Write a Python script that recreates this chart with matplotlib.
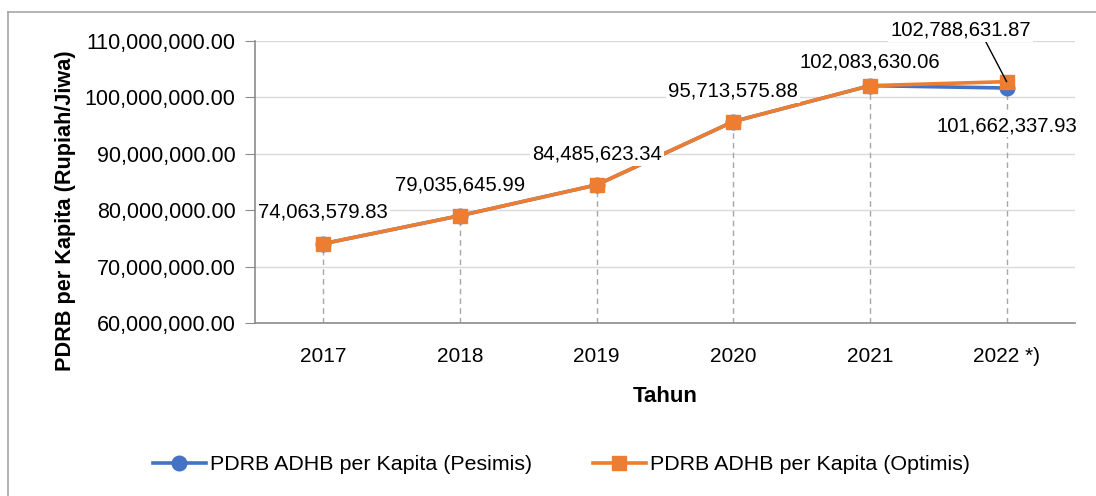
import matplotlib
matplotlib.use("Agg")
import matplotlib.pyplot as plt
from matplotlib.lines import Line2D
from matplotlib.ticker import FuncFormatter

plt.rcParams['font.family'] = ['Liberation Sans', 'DejaVu Sans']

years = ["2017", "2018", "2019", "2020", "2021", "2022 *)"]
pesimis = [74063579.83, 79035645.99, 84485623.34, 95713575.88, 102083630.06, 101662337.93]
optimis = [74063579.83, 79035645.99, 84485623.34, 95713575.88, 102083630.06, 102788631.87]
yticks = [60000000, 70000000, 80000000, 90000000, 100000000, 110000000]

BLUE = "#4472C4"
ORANGE = "#ED7D31"

fig = plt.figure(figsize=(10.96, 4.96), dpi=100)
ax = fig.add_axes([255/1096, 1-323/496, 820/1096, (323-41)/496])

x = list(range(len(years)))
ax.plot(x, pesimis, color=BLUE, lw=2.6, marker='o', ms=10.5, zorder=4,
        label="PDRB ADHB per Kapita (Pesimis)")
ax.plot(x, optimis, color=ORANGE, lw=2.6, marker='s', ms=10.5, zorder=5,
        label="PDRB ADHB per Kapita (Optimis)")

# drop lines
for i, v in enumerate(optimis):
    ax.plot([i, i], [yticks[0], min(v, pesimis[i])], color="#A6A6A6", lw=1,
            ls=(0, (4, 3)), zorder=2)

ax.set_xlim(-0.5, len(years) - 0.5)
ax.set_ylim(yticks[0], yticks[-1])
ax.set_yticks(yticks)
ax.yaxis.set_major_formatter(FuncFormatter(lambda v, p: f"{v:,.2f}"))
ax.set_xticks(x)
ax.set_xticklabels(years)
ax.grid(axis='y', color="#D9D9D9", lw=1, zorder=0)
ax.set_axisbelow(True)
for s in ['top', 'right']:
    ax.spines[s].set_visible(False)
for s in ['left', 'bottom']:
    ax.spines[s].set_color("#8C8C8C")
    ax.spines[s].set_linewidth(1.2)
ax.tick_params(axis='y', length=7, color="#8C8C8C", labelsize=15.5, pad=7)
ax.tick_params(axis='x', length=0, labelsize=15, pad=17)

ax.set_ylabel("PDRB per Kapita (Rupiah/Jiwa)", fontsize=15.6, fontweight='bold')
ax.yaxis.set_label_coords((76-255)/820, (323-211)/282)
ax.set_xlabel("Tahun", fontsize=16, fontweight='bold', labelpad=15)

bbox = dict(boxstyle='square,pad=0.1', fc='white', ec='none')
fs = 14.6
# data labels (offsets in points)
offs = [(0, 23), (0, 22), (0, 22), (0, 22), (0, 17)]
for i in range(5):
    ax.annotate(f"{pesimis[i]:,.2f}", (i, pesimis[i]), xytext=offs[i], textcoords='offset points',
                ha='center', va='center', fontsize=fs, bbox=bbox, zorder=6)
ax.annotate(f"{optimis[5]:,.2f}", (5, optimis[5]), xytext=(-33, 37), textcoords='offset points',
            ha='center', va='center', fontsize=fs, bbox=bbox, zorder=6,
            arrowprops=dict(arrowstyle='-', color='black', lw=1, shrinkA=0, shrinkB=0,
                            relpos=(0.67, 0.0)))
ax.annotate(f"{pesimis[5]:,.2f}", (5, pesimis[5]), xytext=(0, -27), textcoords='offset points',
            ha='center', va='center', fontsize=fs, bbox=bbox, zorder=6)

handles = [Line2D([], [], color=BLUE, lw=2.6, marker='o', ms=10.5),
           Line2D([], [], color=ORANGE, lw=2.6, marker='s', ms=10.5)]
fig.legend(handles, ["PDRB ADHB per Kapita (Pesimis)", "PDRB ADHB per Kapita (Optimis)"],
           loc='center', bbox_to_anchor=(561.5/1096, 1-465/496), ncol=2, frameon=False,
           fontsize=15.4, handlelength=2.5, handletextpad=0.2, columnspacing=2.8)

# outer chart border
fig.add_artist(Line2D([8/1096, 8/1096], [0, 1-12/496], color="#A6A6A6", lw=1.2,
                      transform=fig.transFigure))
fig.add_artist(Line2D([8/1096, 1], [1-12/496, 1-12/496], color="#A6A6A6", lw=1.2,
                      transform=fig.transFigure))

fig.savefig("out.png", dpi=100)
